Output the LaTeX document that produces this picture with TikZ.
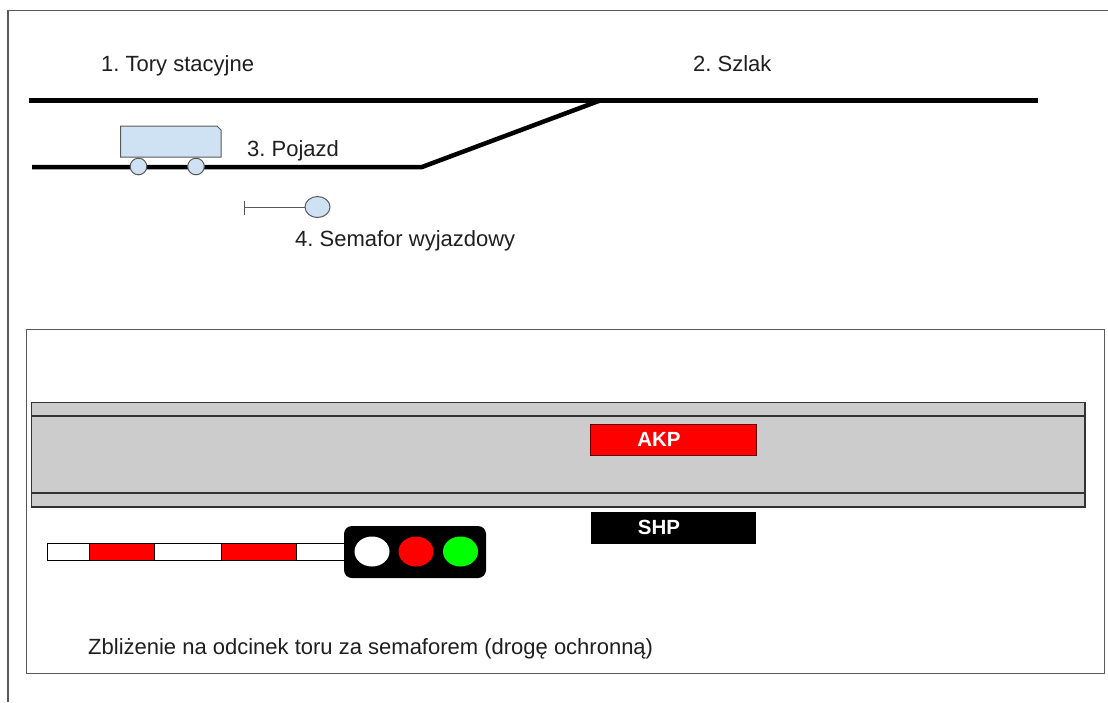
\documentclass[tikz,border=0pt]{standalone}
\usepackage{fontspec}
\usetikzlibrary{shapes.geometric}
\setmainfont{Liberation Sans}
\definecolor{lightblue}{HTML}{CFE2F3}
\definecolor{framegray}{HTML}{595959}
\definecolor{railgray}{HTML}{CCCCCC}
\definecolor{sigred}{HTML}{FF0000}
\definecolor{siggreen}{HTML}{00FF00}
\definecolor{darkred}{HTML}{660000}
\begin{document}
\frenchspacing
\begin{tikzpicture}[x=1pt,y=-1pt,
  lbl/.style={anchor=base west, inner sep=0pt, text=black!88,
    font=\fontsize{22}{26}\selectfont},
  tag/.style={anchor=base, inner sep=0pt, text=white,
    font=\fontsize{20.5}{24}\selectfont\bfseries},
  track/.style={line width=4.5pt, black},
  part/.style={draw=framegray, line width=1pt, fill=lightblue},
  frameline/.style={draw=framegray, line width=1.2pt},
  barpart/.style={draw=black, line width=1pt}
]
\useasboundingbox (0,0) rectangle (1108,702);
\fill[white] (0,0) rectangle (1108,702);

% outer frame (only top and left edges are visible)
\draw[frameline] (8,702) -- (8,10.5) -- (1108,10.5);

% ---- overview: station tracks, line and vehicle ----
\coordinate (mainW) at (29,100.5);
\coordinate (mainE) at (1038,100.5);
\coordinate (sideW) at (32,167);
\coordinate (sideBend) at (422,167);
\coordinate (switch) at (600,100.5);
\draw[track] (mainW) -- (mainE);
\draw[track, line join=miter] (sideW) -- (sideBend) -- (switch);

\node[lbl] (lblTory) at (101,71) {1. Tory stacyjne};
\node[lbl] (lblSzlak) at (693,71) {2. Szlak};
\node[lbl] (lblPojazd) at (247,156) {3. Pojazd};
\node[lbl] (lblSemafor) at (295,246.5) {4. Semafor wyjazdowy};

% vehicle body and wheels
\draw[part] (120.5,126) -- (217,126) -- (221,130) -- (221,157) -- (120.5,157) -- cycle;
\draw[part] (138.5,166.5) circle[radius=8.3];
\draw[part] (196,166.5) circle[radius=8.3];

% exit signal symbol
\coordinate (mastFoot) at (244,207);
\node[part, ellipse, minimum width=25pt, minimum height=21pt, inner sep=0pt] (head) at (317.5,207) {};
\draw[framegray, line width=1pt] (244,200.5) -- (244,214.5);
\draw[framegray, line width=1pt] (mastFoot) -- (head.west);

% ---- close-up of the protective section ----
\draw[draw=framegray, line width=1pt] (26,329) rectangle (1104,673);

% rail seen from above
\draw[draw=black!80, line width=1.1pt, fill=railgray] (31.5,402.5) rectangle (1085,507);
\draw[black!80, line width=1.1pt] (31.5,416) -- (1085,416);
\draw[black!80, line width=1.1pt] (31.5,493) -- (1085,493);

% AKP and SHP devices
\path[fill=sigred, draw=darkred, line width=1pt] (590,424.5) rectangle (756,455.5);
\node[tag] (akp) at (659,446.5) {AKP};
\fill[black] (591,512) rectangle (756,544);
\node[tag] (shp) at (659,534) {SHP};

% barrier arm
\draw[barpart, fill=white] (47,543.5) rectangle (348,560.5);
\draw[barpart, fill=sigred] (89,543.5) rectangle (154.5,560.5);
\draw[barpart, fill=sigred] (221,543.5) rectangle (296,560.5);

% light signal
\fill[black, rounded corners=8pt] (344,526) rectangle (486,578);
\fill[white] (372,551.5) ellipse[x radius=17.5, y radius=15];
\fill[sigred] (416,551.5) ellipse[x radius=17.5, y radius=15];
\fill[siggreen] (460.5,551.5) ellipse[x radius=17.5, y radius=15];

\node[lbl] (caption) at (88,654) {Zbliżenie na odcinek toru za semaforem (drogę ochronną)};
\end{tikzpicture}
\end{document}
